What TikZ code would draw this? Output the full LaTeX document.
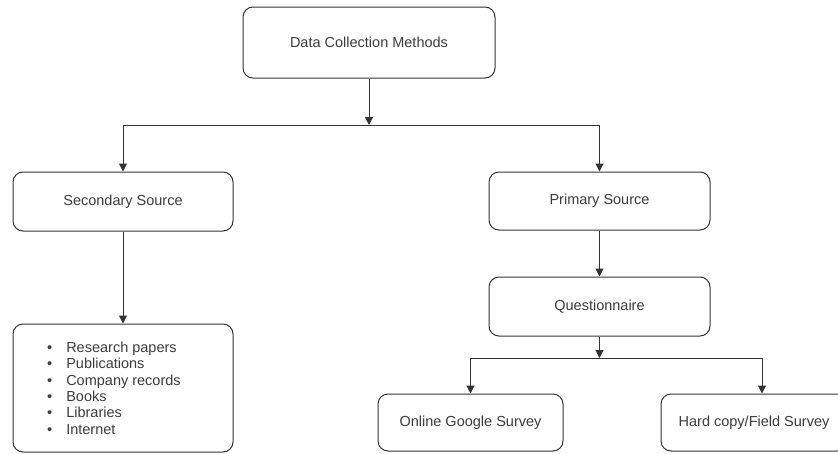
\documentclass[tikz,border=0pt]{standalone}
\usepackage{fontspec}
\setmainfont{Liberation Sans}
\usetikzlibrary{arrows.meta,calc}
\definecolor{ink}{HTML}{333333}
\definecolor{txt}{HTML}{3C3C3C}
\begin{document}
\begin{tikzpicture}[x=1pt,y=-1pt,
  box/.style={draw=ink,line width=1pt,rounded corners=10pt,fill=white,
    text=txt,font=\fontsize{14.5}{17}\selectfont,inner sep=0pt},
  link/.style={draw=ink,line width=1pt},
  arr/.style={link,-{Triangle[length=8pt,width=8pt]}}]
\useasboundingbox (0,0) rectangle (838,453);
\begin{scope}
\clip (0,0) rectangle (838,453);
\node[box,minimum width=252pt,minimum height=71pt] (top) at (369,42.5) {Data Collection Methods};
\node[box,minimum width=220pt,minimum height=59pt] (sec) at (123,201.5) {Secondary Source};
\node[box,minimum width=221pt,minimum height=58pt] (pri) at (599.5,201) {Primary Source};
\node[box,minimum width=221pt,minimum height=59pt] (que) at (599.5,306.5) {Questionnaire};
\node[box,minimum width=220pt,minimum height=128pt] (lst) at (123,388) {};
\node[box,minimum width=185pt,minimum height=57pt] (onl) at (470.5,422.5) {Online Google Survey};
\node[box,minimum width=186pt,minimum height=57pt] (hcp) at (754,422.5) {Hard copy/Field Survey};
\node[text=txt,font=\fontsize{14.5}{16.4}\selectfont,anchor=north west,align=left,inner sep=0pt]
  (items) at (47,341.5) {%
  \textbullet\hspace{14pt}Research papers\\
  \textbullet\hspace{14pt}Publications\\
  \textbullet\hspace{14pt}Company records\\
  \textbullet\hspace{14pt}Books\\
  \textbullet\hspace{14pt}Libraries\\
  \textbullet\hspace{14pt}Internet};
\coordinate (j1) at (369,125);
\coordinate (j2) at (599.5,358);
% top split
\draw[arr] (top.south) -- (j1);
\draw[link] (sec.north |- j1) -- (pri.north |- j1);
\draw[arr] (sec.north |- j1) -- (sec.north);
\draw[arr] (pri.north |- j1) -- (pri.north);
% secondary branch
\draw[arr] (sec.south) -- (lst.north);
% primary branch
\draw[arr] (pri.south) -- (que.north);
\draw[arr] (que.south) -- (j2);
\coordinate (hcin) at ($(hcp.north)+(8,0)$);
\draw[link] (onl.north |- j2) -- (hcin |- j2);
\draw[arr] (onl.north |- j2) -- (onl.north);
\draw[arr] (hcin |- j2) -- (hcin);
\end{scope}
\end{tikzpicture}
\end{document}
